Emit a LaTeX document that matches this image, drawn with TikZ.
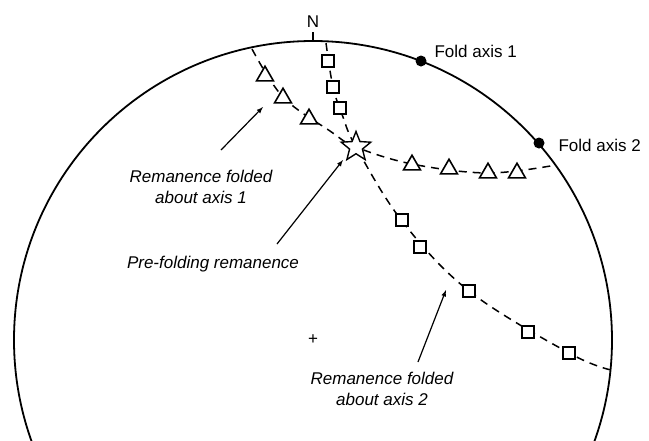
\documentclass[tikz,border=0pt]{standalone}
\usepackage{fontspec}
\setmainfont{Liberation Sans}
\usetikzlibrary{shapes.geometric}

\tikzset{
    lab/.style={font=\fontsize{17}{21}\selectfont, align=center},
    itlab/.style={lab, font=\fontsize{17}{21}\selectfont\itshape},
    tri/.style={draw, fill=white, regular polygon, regular polygon sides=3,
                minimum size=19.5, inner sep=0pt, line width=1.6},
    sq/.style={draw, fill=white, minimum size=12.5, inner sep=0pt, line width=1.6},
    axisdot/.style={circle, fill=black, minimum size=11, inner sep=0pt},
    locus/.style={dashed, dash pattern=on 8pt off 6pt, line width=1.5},
}

\begin{document}
\begin{tikzpicture}[x=1pt, y=-1pt, >=latex]
    \useasboundingbox (0,0) rectangle (649,440);
    \clip (0,0) rectangle (649,440);

    % primitive circle
    \node[lab, inner sep=0pt] (ctr) at (313,340) {+};
    \draw[line width=1.8] (313,340) circle (299);
    \draw[line width=1.2] (313,41) -- (313,32);
    \node[lab] (north) at (313,22) {N};

    % fold axes
    \node[axisdot] (fa1) at (421,61) {};
    \node[axisdot] (fa2) at (539,143) {};
    \node[lab, anchor=west] at (431,51) {Fold axis 1};
    \node[lab, anchor=west] at (555,145) {Fold axis 2};

    % loci of remanence direction
    \draw[locus] plot[smooth, tension=0.6] coordinates
        {(252,49) (283,97) (330,131) (356,147) (412,164) (488,173) (556,165)};
    \draw[locus] plot[smooth, tension=0.6] coordinates
        {(326,43) (333,87) (343,117) (356,147) (402,221) (469,291) (569,353) (611,370)};

    % folded about axis 1
    \foreach \p [count=\i] in {(265,76),(283,98),(309,119),(412,165),(449,169),(488,173),(517,173)}
        \node[tri] (t\i) at \p {};
    % folded about axis 2
    \foreach \p [count=\i] in {(328,61),(333,87),(340,108),(402,220),(420,247),(469,291),(528,332),(569,353)}
        \node[sq] (s\i) at \p {};

    \node[star, star points=5, star point ratio=2.3, minimum size=31, inner sep=0pt,
          draw, fill=white, line width=1.4] (pre) at (356,147) {};

    % labels
    \node[itlab] (lab1) at (201,187) {Remanence folded\\about axis 1};
    \node[itlab] (lab0) at (213,264) {Pre-folding remanence};
    \node[itlab] (lab2) at (382,389) {Remanence folded\\about axis 2};

    \coordinate (a1) at (221,150);
    \coordinate (h1) at (263,107);
    \coordinate (a0) at (277,244);
    \coordinate (h0) at (343,160);
    \coordinate (a2) at (418,362);
    \coordinate (h2) at (446,290);
    \draw[->, line width=1.2] (a1) -- (h1);
    \draw[->, line width=1.2] (a0) -- (h0);
    \draw[->, line width=1.2] (a2) -- (h2);
\end{tikzpicture}
\end{document}
